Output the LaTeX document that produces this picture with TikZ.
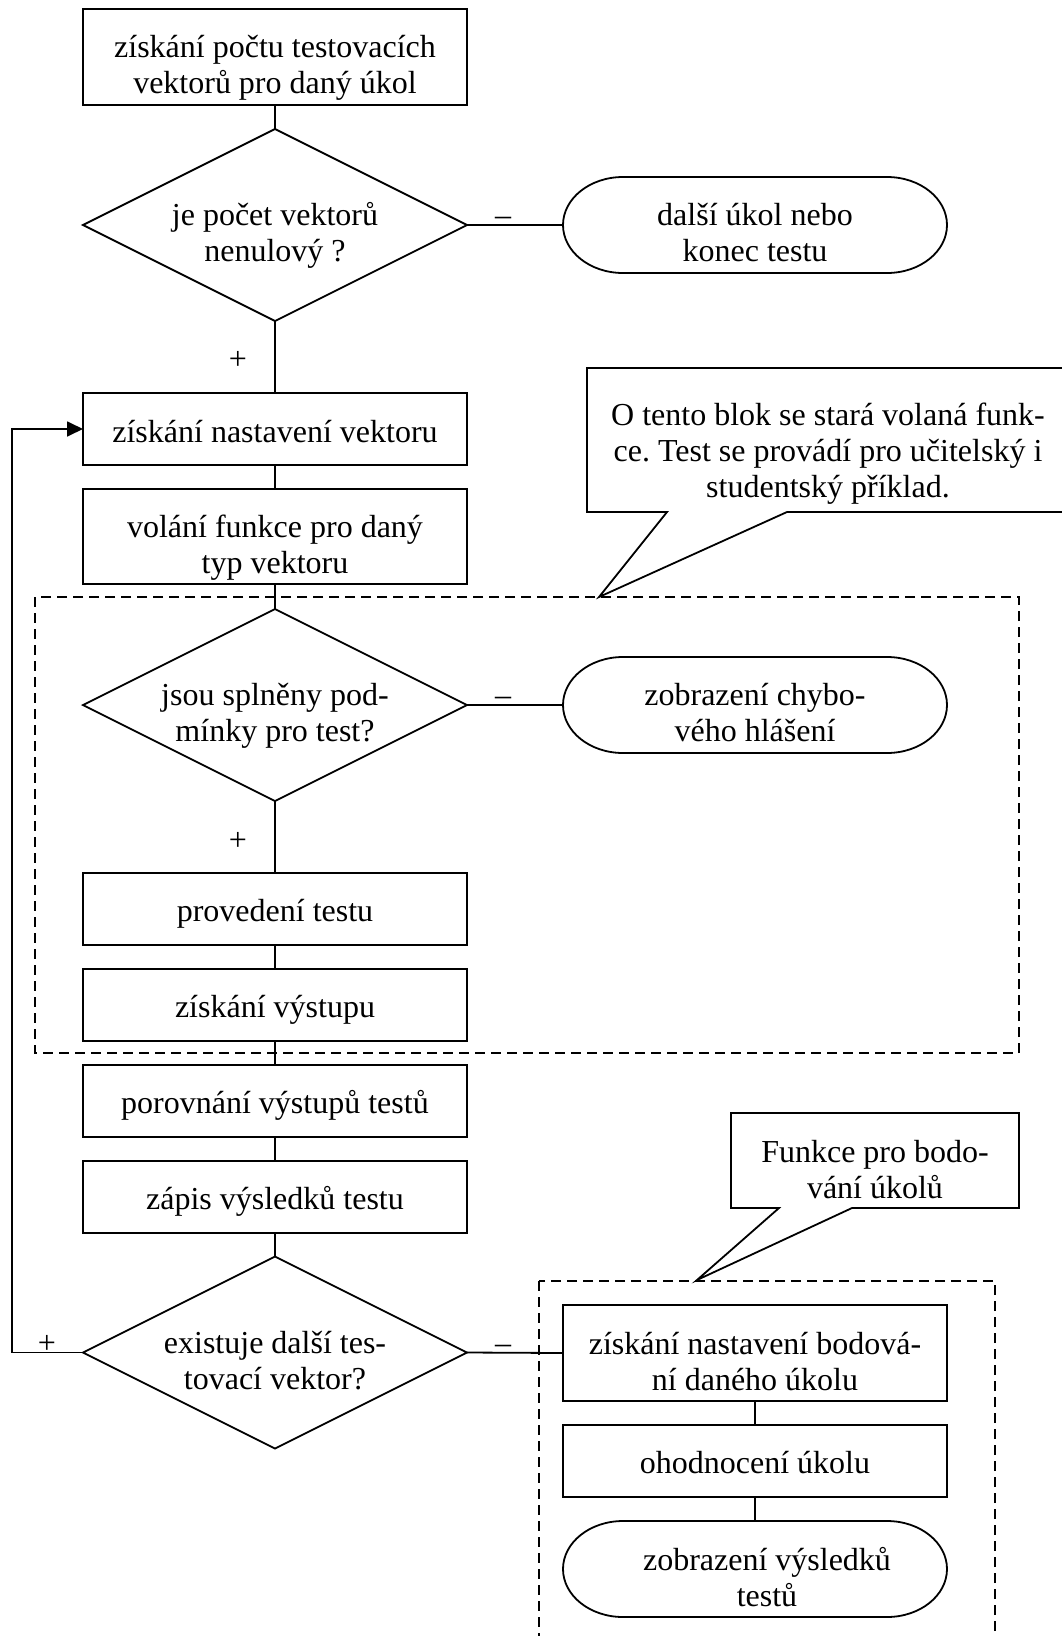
\documentclass[tikz,border=0pt]{standalone}
\usepackage{fontspec}
\setmainfont{Liberation Serif}
\usetikzlibrary{shapes.geometric,arrows.meta}
\frenchspacing
\newcommand\mystrut{\rule{0pt}{26pt}}
\newcommand\stadium[1]{\draw[line width=1.8pt] ([xshift=60pt]#1.north west) -- ([xshift=-60pt]#1.north east) arc[start angle=90,end angle=-90,x radius=60pt,y radius=48pt] -- ([xshift=60pt]#1.south west) arc[start angle=270,end angle=90,x radius=60pt,y radius=48pt] -- cycle;}
\begin{document}
\begin{tikzpicture}[x=1pt,y=-1pt,line width=1.8pt,
  box/.style={draw, rectangle, minimum width=384pt, inner sep=0pt, outer sep=0pt},
  dec/.style={draw, diamond, minimum width=384pt, minimum height=192pt, inner sep=0pt, outer sep=0pt},
  term/.style={rectangle, minimum width=384pt, minimum height=96pt, inner sep=0pt, outer sep=0pt},
  txt/.style={font=\fontsize{32pt}{36pt}\selectfont\frenchspacing, align=center, inner sep=0pt, anchor=north},
  sgn/.style={font=\fontsize{32pt}{36pt}\selectfont, inner sep=0pt, anchor=base},
  grp/.style={dash pattern=on 10pt off 6pt, line width=1.8pt},
  co/.style={line width=1.8pt, line join=miter}]
\useasboundingbox (0,0) rectangle (1062,1636);
\clip (0,0) rectangle (1062,1636);

% groups
\draw[grp] (35,597) rectangle (1019,1053);
\draw[grp] (539,1281) rectangle (995,1660);

% callouts
\draw[co] (587,368) -- (1070,368) -- (1070,512) -- (787,512) -- (599,597) -- (667,512) -- (587,512) -- cycle;
\node[txt] (c1t) at (828,425-26) {\mystrut O tento blok se stará volaná funk-\\ce. Test se provádí pro učitelský i\\studentský příklad.};
\draw[co] (731,1113) -- (1019,1113) -- (1019,1208) -- (852,1208) -- (697,1280) -- (779,1208) -- (731,1208) -- cycle;
\node[txt] (c2t) at (875,1162-26) {\mystrut Funkce pro bodo-\\vání úkolů};

% main column
\node[box, minimum height=96pt] (b1) at (275,57) {};
\node[dec] (d1) at (275,225) {};
\node[term] (t1) at (755,225) {};
\stadium{t1}
\node[box, minimum height=72pt] (b2) at (275,429) {};
\node[box, minimum height=95pt] (b3) at (275,536.5) {};
\node[dec] (d2) at (275,705) {};
\node[term] (t2) at (755,705) {};
\stadium{t2}
\node[box, minimum height=72pt] (b4) at (275,909) {};
\node[box, minimum height=72pt] (b5) at (275,1005) {};
\node[box, minimum height=72pt] (b6) at (275,1101) {};
\node[box, minimum height=72pt] (b7) at (275,1197) {};
\node[dec] (d3) at (275,1352.5) {};
\node[box, minimum height=96pt] (b8) at (755,1353) {};
\node[box, minimum height=72pt] (b9) at (755,1461) {};
\node[term] (t3) at (755,1569) {};
\stadium{t3}

% texts
\node[txt] (b1t) at (275,57-26) {\mystrut získání počtu testovacích\\vektorů pro daný úkol};
\node[txt] (d1t) at (275,225-26) {\mystrut je počet vektorů\\nenulový ?};
\node[txt] (t1t) at (755,225-26) {\mystrut další úkol nebo\\konec testu};
\node[txt] (b2t) at (275,442-26) {\mystrut získání nastavení vektoru};
\node[txt] (b3t) at (275,537-26) {\mystrut volání funkce pro daný\\typ vektoru};
\node[txt] (d2t) at (275,705-26) {\mystrut jsou splněny pod-\\mínky pro test?};
\node[txt] (t2t) at (755,705-26) {\mystrut zobrazení chybo-\\vého hlášení};
\node[txt] (b4t) at (275,921-26) {\mystrut provedení testu};
\node[txt] (b5t) at (275,1017-26) {\mystrut získání výstupu};
\node[txt] (b6t) at (275,1113-26) {\mystrut porovnání výstupů testů};
\node[txt] (b7t) at (275,1209-26) {\mystrut zápis výsledků testu};
\node[txt] (d3t) at (275,1353-26) {\mystrut existuje další tes-\\tovací vektor?};
\node[txt] (b8t) at (755,1354-26) {\mystrut získání nastavení bodová-\\ní daného úkolu};
\node[txt] (b9t) at (755,1473-26) {\mystrut ohodnocení úkolu};
\node[txt] (t3t) at (767,1570-26) {\mystrut zobrazení výsledků\\testů};

% connectors
\draw (b1.south) -- (d1.north);
\draw (d1.east) -- (t1.west);
\draw (d1.south) -- (b2.north);
\draw (b2.south) -- (b3.north);
\draw (b3.south) -- (d2.north);
\draw (d2.east) -- (t2.west);
\draw (d2.south) -- (b4.north);
\draw (b4.south) -- (b5.north);
\draw (b5.south) -- (b6.north);
\draw (b6.south) -- (b7.north);
\draw (b7.south) -- (d3.north);
\draw (d3.east) -- (b8.west);
\draw (b8.south) -- (b9.north);
\draw (b9.south) -- (t3.north);
\draw[-{Triangle[length=16pt,width=15pt]}] (d3.west) -- ++(-71,0) |- (b2.west);

% branch labels
\node[sgn] (m1) at (503,225) {–};
\node[sgn] (p1) at (238,369) {+};
\node[sgn] (m2) at (503,705) {–};
\node[sgn] (p2) at (238,850) {+};
\node[sgn] (p3) at (47,1353) {+};
\node[sgn] (m3) at (503,1353) {–};
\end{tikzpicture}
\end{document}
